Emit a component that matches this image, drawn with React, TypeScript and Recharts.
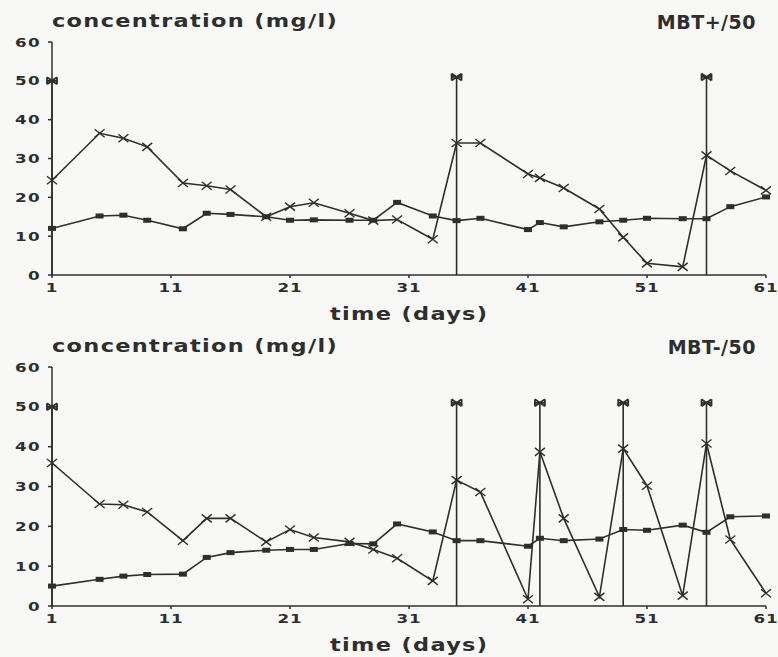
import { Line, LineChart, XAxis, YAxis } from "recharts";

const days = [1, 5, 7, 9, 12, 14, 16, 19, 21, 23, 26, 28, 30, 33, 35, 37, 41, 42, 44, 47, 49, 51, 54, 56, 58, 61];

// MBT+/50 panel
const plusCross = [24.4, 36.5, 35.2, 33, 23.7, 23, 22, 15, 17.6, 18.6, 15.9, 14, 14.3, 9.2, 34, 34, 26, 25, 22.4, 17, 9.7, 3, 2.1, 30.8, 26.8, 21.8];
const plusSquare = [12, 15.2, 15.4, 14.1, 11.9, 15.9, 15.6, 15, 14.1, 14.2, 14.1, 14.1, 18.7, 15.2, 14, 14.6, 11.7, 13.5, 12.4, 13.7, 14.1, 14.6, 14.5, 14.5, 17.6, 20.1];
const plusSpikeDays = [1, 35, 56];
const plusSpikeLevels = [50, 51, 51];

// MBT-/50 panel
const minusCross = [35.9, 25.6, 25.4, 23.6, 16.4, 22, 22, 16.1, 19.2, 17.2, 16.1, 14.2, 12, 6.3, 31.6, 28.6, 1.7, 38.7, 22, 2.3, 39.5, 30.2, 2.6, 40.8, 16.7, 3.2];
const minusSquare = [5, 6.7, 7.5, 7.9, 8, 12.2, 13.4, 14, 14.2, 14.2, 15.7, 15.6, 20.6, 18.6, 16.4, 16.4, 15, 17, 16.4, 16.8, 19.2, 19, 20.3, 18.5, 22.4, 22.6];
const minusSpikeDays = [1, 35, 42, 49, 56];
const minusSpikeLevels = [50, 51, 51, 51, 51];

const xTicks = [1, 11, 21, 31, 41, 51, 61];
const yTicks = [0, 10, 20, 30, 40, 50, 60];

const INK = "#2e2e2e";
const FONT = "'DejaVu Sans', sans-serif";
const WIDE = 1.34;

function buildRows(cross: number[], square: number[]) {
  return days.map((d, i) => ({ day: d, cross: cross[i], square: square[i] }));
}

function buildSpikes(spDays: number[], levels: number[]) {
  const rows: { day: number; s: number | null }[] = [];
  spDays.forEach((d, i) => {
    rows.push({ day: d, s: 0 });
    rows.push({ day: d, s: levels[i] });
    rows.push({ day: d, s: null });
  });
  return rows;
}

const CrossDot = (props: any) => {
  const { cx, cy, index } = props;
  if (cx == null || cy == null) return <g key={`c-${index}`} />;
  return (
    <path
      key={`c-${index}`}
      d={`M${cx - 5},${cy - 4}L${cx + 5},${cy + 4}M${cx - 5},${cy + 4}L${cx + 5},${cy - 4}`}
      stroke={INK}
      strokeWidth={1.4}
      fill="none"
    />
  );
};

const SquareDot = (props: any) => {
  const { cx, cy, index } = props;
  if (cx == null || cy == null) return <g key={`s-${index}`} />;
  return <rect key={`s-${index}`} x={cx - 4} y={cy - 2.5} width={8} height={5} fill={INK} />;
};

const StarDot = (props: any) => {
  const { cx, cy, index, payload } = props;
  if (cx == null || cy == null || !payload || !payload.s) return <g key={`t-${index}`} />;
  return (
    <path
      key={`t-${index}`}
      d={`M${cx - 5},${cy - 3.5}L${cx + 5},${cy + 3.5}M${cx - 5},${cy + 3.5}L${cx + 5},${cy - 3.5}M${cx - 5},${cy - 3.5}L${cx - 5},${cy + 3.5}M${cx + 5},${cy - 3.5}L${cx + 5},${cy + 3.5}M${cx - 5},${cy}L${cx + 5},${cy}`}
      stroke={INK}
      strokeWidth={1.8}
      fill="none"
    />
  );
};

const XTick = (props: any) => {
  const { x, y, payload } = props;
  return (
    <g transform={`translate(${x},${y}) scale(${WIDE},1)`}>
      <text x={0} y={0} dy={10} textAnchor="middle" fill={INK} fontFamily={FONT} fontWeight={700} fontSize={12.5} letterSpacing={0.6}>
        {payload.value}
      </text>
    </g>
  );
};

const YTick = (props: any) => {
  const { x, y, payload } = props;
  return (
    <g transform={`translate(${x + 1},${y}) scale(${WIDE},1)`}>
      <text x={0} y={0} dy={4.5} textAnchor="end" fill={INK} fontFamily={FONT} fontWeight={700} fontSize={12.5} letterSpacing={1}>
        {payload.value}
      </text>
    </g>
  );
};

type PanelProps = {
  top: number;
  height: number;
  marginTop: number;
  marginBottom: number;
  tag: string;
  cross: number[];
  square: number[];
  spikeDays: number[];
  spikeLevels: number[];
};

function Panel({ top, height, marginTop, marginBottom, tag, cross, square, spikeDays, spikeLevels }: PanelProps) {
  const rows = buildRows(cross, square);
  const spikes = buildSpikes(spikeDays, spikeLevels);
  const textStyle = {
    position: "absolute" as const,
    fontFamily: FONT,
    fontWeight: 700,
    color: INK,
    whiteSpace: "nowrap" as const,
    lineHeight: 1,
  };
  const wide = { transform: "scaleX(1.32)", transformOrigin: "left top", letterSpacing: 1 };
  return (
    <div style={{ position: "absolute", left: 0, top, width: 778, height }}>
      <LineChart width={778} height={height} data={rows} margin={{ top: marginTop, right: 12, bottom: marginBottom, left: 0 }}>
        <XAxis
          dataKey="day"
          type="number"
          domain={[1, 61]}
          ticks={xTicks}
          height={30}
          tickSize={3}
          tickMargin={4}
          stroke={INK}
          strokeWidth={1.5}
          tick={<XTick />}
        />
        <XAxis xAxisId="top" orientation="top" dataKey="day" type="number" domain={[1, 61]} height={0} tick={false} tickLine={false} stroke={INK} strokeWidth={1.5} />
        <YAxis
          type="number"
          domain={[0, 60]}
          ticks={yTicks}
          width={52}
          tickSize={4}
          tickMargin={8}
          stroke={INK}
          strokeWidth={1.5}
          tick={<YTick />}
        />
        <YAxis yAxisId="right" orientation="right" domain={[0, 60]} width={0} tick={false} tickLine={false} stroke={INK} strokeWidth={1.5} />
        <Line dataKey="square" stroke={INK} strokeWidth={1.6} dot={<SquareDot />} isAnimationActive={false} />
        <Line dataKey="cross" stroke={INK} strokeWidth={1.6} dot={<CrossDot />} isAnimationActive={false} />
        <Line data={spikes} dataKey="s" stroke={INK} strokeWidth={1.6} dot={<StarDot />} isAnimationActive={false} />
      </LineChart>
      <div style={{ ...textStyle, ...wide, left: 52, top: marginTop - 29, fontSize: 17 }}>concentration (mg/l)</div>
      <div style={{ ...textStyle, right: 22, top: marginTop - 29, fontSize: 19, letterSpacing: 0.5 }}>{tag}</div>
      <div style={{ ...textStyle, ...wide, left: 330, top: height - marginBottom + 1, fontSize: 17 }}>time (days)</div>
    </div>
  );
}

export default function App() {
  return (
    <div style={{ position: "absolute", left: 0, top: 0, width: 778, height: 657, background: "#f8f9f6" }}>
      <Panel top={0} height={328} marginTop={42} marginBottom={23} tag="MBT+/50" cross={plusCross} square={plusSquare} spikeDays={plusSpikeDays} spikeLevels={plusSpikeLevels} />
      <Panel top={328} height={329} marginTop={39} marginBottom={21} tag="MBT-/50" cross={minusCross} square={minusSquare} spikeDays={minusSpikeDays} spikeLevels={minusSpikeLevels} />
    </div>
  );
}
